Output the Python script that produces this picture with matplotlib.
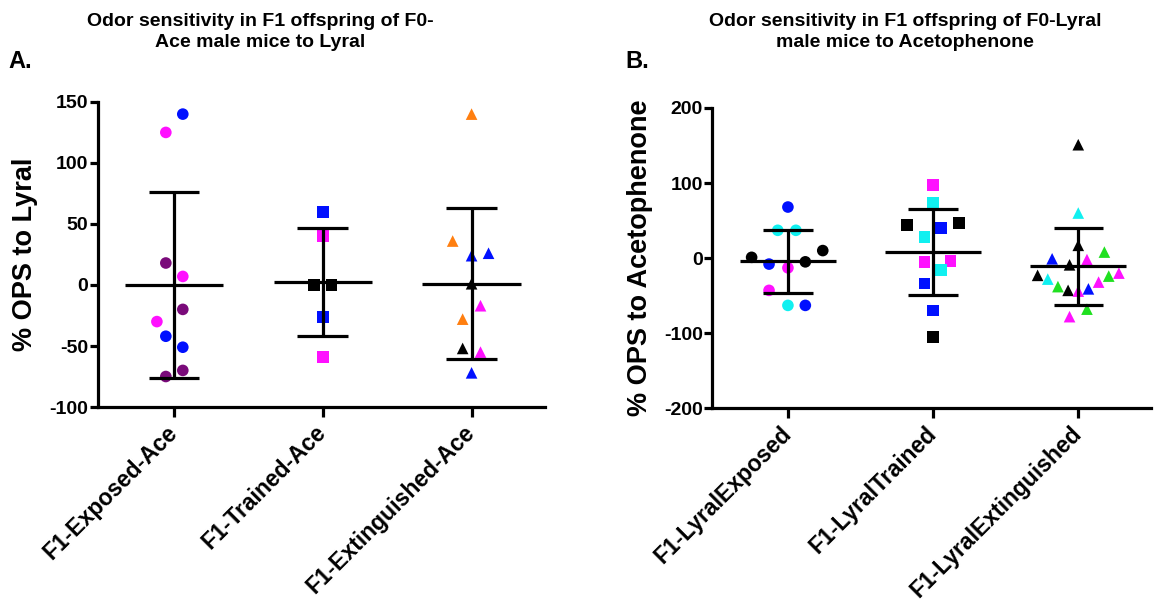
import matplotlib
matplotlib.use("Agg")
import matplotlib.pyplot as plt
import numpy as np

plt.rcParams['font.family'] = ['Liberation Sans', 'DejaVu Sans']
plt.rcParams['font.weight'] = 'bold'
plt.rcParams['axes.unicode_minus'] = False

# colours used in the original figure
PUR = '#7a0a7a'
MAG = '#ff10ff'
BLU = '#0010ff'
ORG = '#ff7f10'
BLK = '#000000'
CYN = '#10f0f0'
GRN = '#20e020'

# ---- panel A: F1 offspring of F0-Ace, tested on Lyral
a_labels = ['F1-Exposed-Ace', 'F1-Trained-Ace', 'F1-Extinguished-Ace']

a_exposed = [140, 125, 18, 7, -20, -30, -42, -51, -70, -75]
a_exposed_c = [BLU, MAG, PUR, MAG, PUR, MAG, BLU, BLU, PUR, PUR]
a_trained = [60, 40, 0, 0, -26, -59]
a_trained_c = [BLU, MAG, BLK, BLK, BLU, MAG]
a_ext = [140, 36, 24, 26, 1, -17, -28, -52, -55, -72]
a_ext_c = [ORG, ORG, BLU, BLU, BLK, MAG, ORG, BLK, MAG, BLU]

a_mean = [0, 2.5, 1]
a_sd = [76, 44, 62]

# ---- panel B: F1 offspring of F0-Lyral, tested on Acetophenone
b_labels = ['F1-LyralExposed', 'F1-LyralTrained', 'F1-LyralExtinguished']

b_exposed = [68, 37, 37, 1, 10, -8, -13, -5, -43, -63, -63]
b_exposed_c = [BLU, CYN, CYN, BLK, BLK, BLU, MAG, BLK, MAG, CYN, BLU]
b_trained = [97, 73, 44, 47, 40, 28, -5, -4, -16, -34, -70, -105]
b_trained_c = [MAG, CYN, BLK, BLK, BLU, CYN, MAG, MAG, CYN, BLU, BLU, BLK]
b_ext = [151, 60, 17, 8, -1, -2, -9, -23, -28, -24, -20, -32, -38, -43, -44, -41, -68, -78]
b_ext_c = [BLK, CYN, BLK, GRN, BLU, MAG, BLK, BLK, CYN, GRN, MAG, MAG, GRN, BLK, MAG, BLU, GRN, MAG]

b_mean = [-4, 8, -11]
b_sd = [42, 57, 51]

# horizontal scatter offsets (layout only, as spread out in the figure)
a_dx = [
    [0.06, -0.054, -0.054, 0.06, 0.06, -0.114, -0.054, 0.06, 0.06, -0.054],
    [0, 0, -0.06, 0.06, 0, 0],
    [0, -0.127, 0, 0.114, 0, 0.06, -0.06, -0.06, 0.06, 0],
]
b_dx = [
    [0, -0.07, 0.055, -0.25, 0.24, -0.13, 0, 0.12, -0.13, 0, 0.12],
    [0, 0, -0.18, 0.18, 0.055, -0.06, -0.06, 0.12, 0.055, -0.06, 0, 0],
    [0, 0, 0, 0.18, -0.18, 0.06, -0.06, -0.28, -0.21, 0.21, 0.28, 0.14, -0.14, -0.07, 0, 0.07, 0.06, -0.06],
]

LW = 2.3


def panel(ax, groups, cols, dxs, means, sds, markers, labels, ylim, yticks, ylabel):
    for i, (vals, cc, dx, mk) in enumerate(zip(groups, cols, dxs, markers)):
        x = i + np.array(dx)
        ax.scatter(x, vals, c=cc, marker=mk, s=70, linewidths=0, zorder=2)
    for i, (m, s) in enumerate(zip(means, sds)):
        ax.plot([i - 0.33, i + 0.33], [m, m], color='k', lw=LW, zorder=3, solid_capstyle='butt')
        ax.plot([i, i], [m - s, m + s], color='k', lw=LW, zorder=3, solid_capstyle='butt')
        for yy in (m - s, m + s):
            ax.plot([i - 0.17, i + 0.17], [yy, yy], color='k', lw=LW, zorder=3, solid_capstyle='butt')
    ax.set_ylim(ylim)
    ax.set_yticks(yticks)
    ax.set_xticks(range(3))
    ax.set_xticklabels(labels, rotation=45, ha='right', va='center', rotation_mode='anchor',
                       fontsize=16.5, fontweight='bold')
    ax.tick_params(axis='y', labelsize=14, width=LW, length=6, pad=1)
    ax.tick_params(axis='x', width=LW, length=7, pad=9)
    for t in ax.get_yticklabels():
        t.set_fontweight('bold')
    ax.spines['top'].set_visible(False)
    ax.spines['right'].set_visible(False)
    ax.spines['left'].set_linewidth(LW)
    ax.spines['bottom'].set_linewidth(LW)
    ax.set_ylabel(ylabel, fontsize=19.5, fontweight='bold')
    ax.yaxis.set_label_coords(-0.135, 0.5)


fig = plt.figure(figsize=(11.66, 6.03), dpi=100)

axA = fig.add_axes([0.084, 0.325, 0.383, 0.506])
panel(axA, [a_exposed, a_trained, a_ext], [a_exposed_c, a_trained_c, a_ext_c], a_dx,
      a_mean, a_sd, ['o', 's', '^'], a_labels, (-100, 150), [-100, -50, 0, 50, 100, 150],
      '% OPS to Lyral')
axA.set_xlim(-0.51, 2.49)

axB = fig.add_axes([0.611, 0.323, 0.376, 0.498])
panel(axB, [b_exposed, b_trained, b_ext], [b_exposed_c, b_trained_c, b_ext_c], b_dx,
      b_mean, b_sd, ['o', 's', '^'], b_labels, (-200, 200), [-200, -100, 0, 100, 200],
      '% OPS to Acetophenone')
axB.set_xlim(-0.52, 2.5)

fig.text(260 / 1166, 1 - 13 / 603, 'Odor sensitivity in F1 offspring of F0-\nAce male mice to Lyral',
         ha='center', va='top', fontsize=14, fontweight='bold', linespacing=1.3)
fig.text(905 / 1166, 1 - 13 / 603, 'Odor sensitivity in F1 offspring of F0-Lyral\nmale mice to Acetophenone',
         ha='center', va='top', fontsize=14, fontweight='bold', linespacing=1.3)
fig.text(8 / 1166, 1 - 68 / 603, 'A.', ha='left', va='baseline', fontsize=17, fontweight='bold')
fig.text(625 / 1166, 1 - 68 / 603, 'B.', ha='left', va='baseline', fontsize=17, fontweight='bold')

plt.savefig('out.png', dpi=100)
